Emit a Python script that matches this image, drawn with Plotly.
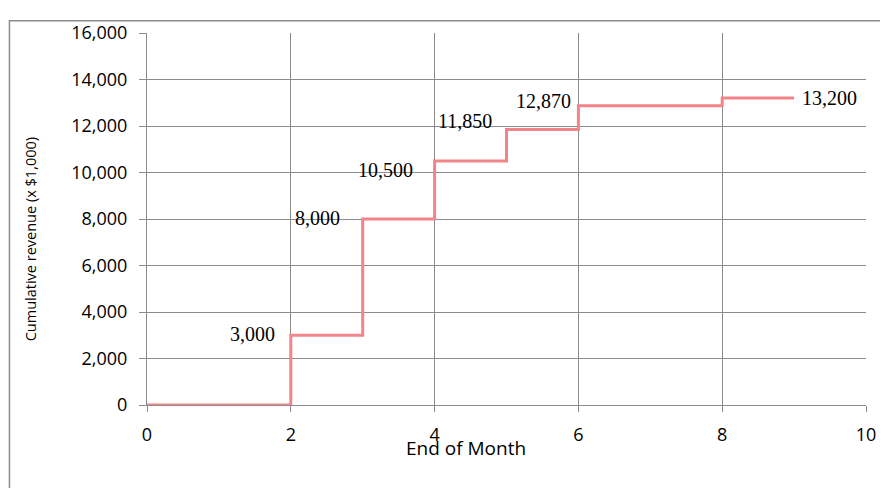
import plotly.graph_objects as go

# Data
months = [0, 2, 3, 4, 5, 6, 8, 9]
revenue = [0, 3000, 8000, 10500, 11850, 12870, 13200, 13200]

label_months = [2, 3, 4, 5, 6, 9]
label_values = [3000, 8000, 10500, 11850, 12870, 13200]
label_texts = ["3,000", "8,000", "10,500", "11,850", "12,870", "13,200"]

x_ticks = [0, 2, 4, 6, 8, 10]
y_ticks = [0, 2000, 4000, 6000, 8000, 10000, 12000, 14000, 16000]

# label styling (anchors and pixel offsets)
label_anchor = ["right", "right", "right", "right", "right", "left"]
label_xshift = [-14, -21, -20, -13, -5, 6]
label_yshift = [1, 1, -9, 8, 5, 0]

LINE = "#F2848A"
GRID = "#8C8C8C"
TICKFONT = dict(family="Open Sans", size=18, color="#000000")

# the page body adds an 8px margin; the figure is sized to compensate
W, H = 880, 480

fig = go.Figure()
fig.add_trace(go.Scatter(
    x=months, y=revenue, mode="lines", line=dict(color=LINE, width=3, shape="hv"),
    showlegend=False, hoverinfo="skip"))

for xm, yv, t, a, dx, dy in zip(label_months, label_values, label_texts,
                                label_anchor, label_xshift, label_yshift):
    fig.add_annotation(x=xm, y=yv, text=t, showarrow=False, xanchor=a, yanchor="middle",
                       xshift=dx, yshift=dy,
                       font=dict(family="Liberation Serif", size=20, color="#000000"))

fig.add_annotation(xref="paper", yref="paper", x=0.443, y=-0.115, text="End of Month",
                   showarrow=False, xanchor="center", yanchor="middle",
                   font=dict(family="Open Sans", size=19, color="#000000"))

fig.add_annotation(xref="paper", yref="paper", x=-0.1616, y=0.445,
                   text="Cumulative revenue (x $1,000)", textangle=-90,
                   showarrow=False, xanchor="center", yanchor="middle",
                   font=dict(family="Open Sans", size=14.5, color="#000000"))

# outer chart border
fig.add_shape(type="rect", xref="paper", yref="paper", x0=-0.1913, x1=1.1, y0=-0.3, y1=1.0326,
              line=dict(color="#8C8C8C", width=1.5), layer="below")

fig.update_layout(
    width=W, height=H,
    margin=dict(l=139, r=17, t=13, b=83),
    paper_bgcolor="white", plot_bgcolor="white",
    xaxis=dict(range=[0, 10], tickvals=x_ticks, ticktext=[str(v) for v in x_ticks],
               showgrid=True, gridcolor=GRID, gridwidth=1, zeroline=False,
               showline=True, linecolor=GRID, linewidth=1,
               ticks="outside", ticklen=6, tickcolor=GRID, tickfont=TICKFONT,
               ticklabelstandoff=7),
    yaxis=dict(range=[0, 16000], tickvals=y_ticks, ticktext=[f"{v:,}" for v in y_ticks],
               showgrid=True, gridcolor=GRID, gridwidth=1, zeroline=False,
               showline=True, linecolor=GRID, linewidth=1,
               ticks="outside", ticklen=7, tickcolor=GRID, tickfont=TICKFONT,
               ticklabelstandoff=8),
)

fig.write_html("out.html")
